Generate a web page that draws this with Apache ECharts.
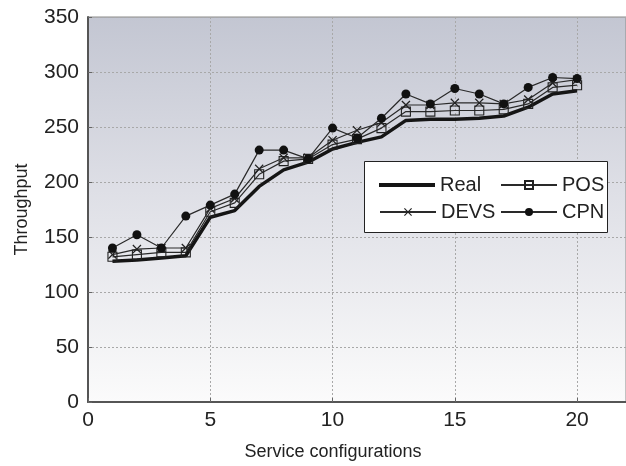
<!DOCTYPE html>
<html>
<head>
<meta charset="utf-8">
<script src="https://cdn.jsdelivr.net/npm/echarts@6/dist/echarts.min.js"></script>
<style>
  html, body { margin: 0; padding: 0; background: #ffffff; }
  #chart { width: 626px; height: 466px; }
</style>
</head>
<body>
<div id="chart"></div>
<script>
// Throughput measured for each service configuration (1..20)
const configs = [1, 2, 3, 4, 5, 6, 7, 8, 9, 10, 11, 12, 13, 14, 15, 16, 17, 18, 19, 20];
const realValues = [128, 129, 131, 133, 168, 174, 196, 211, 218, 230, 236, 241, 256, 257, 257, 258, 260, 268, 280, 283];
const posValues  = [132, 134, 136, 136, 173, 181, 207, 219, 221, 234, 239, 249, 264, 264, 265, 265, 266, 271, 286, 288];
const devsValues = [134, 139, 140, 140, 176, 185, 212, 222, 222, 238, 247, 254, 270, 270, 272, 272, 271, 275, 290, 293];
const cpnValues  = [140, 152, 140, 169, 179, 189, 229, 229, 221, 249, 240, 258, 280, 271, 285, 280, 271, 286, 295, 294];

const yTicks = [0, 50, 100, 150, 200, 250, 300, 350];
const xTicks = [0, 5, 10, 15, 20];

const pairs = vals => configs.map((c, i) => [c, vals[i]]);

const FONT = 'Liberation Sans';
const INK = '#222222';
const crossPath = 'path://M1,0 L5,4 L9,0 L10,1 L6,5 L10,9 L9,10 L5,6 L1,10 L0,9 L4,5 L0,1 Z';

const thinLine = { color: '#2a2a2a', width: 1.2 };
const legendText = { fontFamily: FONT, fontSize: 20, color: INK };

// one legend block per entry so the two columns line up inside the box
function legendEntry(name, left, top, extra) {
  return Object.assign({
    data: [name],
    left: left, top: top,
    z: 60,
    itemWidth: 56, itemHeight: 10,
    textStyle: legendText,
    selectedMode: false
  }, extra || {});
}

const chart = echarts.init(document.getElementById('chart'), null, { renderer: 'canvas' });

chart.setOption({
  animation: false,
  backgroundColor: '#ffffff',
  grid: {
    left: 88, top: 17, right: -5, bottom: 62,
    show: true,
    borderColor: '#8a8a8a',
    borderWidth: 1,
    backgroundColor: {
      type: 'linear', x: 0, y: 0, x2: 0, y2: 1,
      colorStops: [
        { offset: 0, color: '#c3c6d2' },
        { offset: 0.45, color: '#dedfe6' },
        { offset: 1, color: '#fbfbfb' }
      ]
    }
  },
  xAxis: {
    type: 'value',
    min: 0, max: 22, interval: 5,
    name: 'Service configurations',
    nameLocation: 'middle',
    nameGap: 41,
    nameTextStyle: { fontFamily: FONT, fontSize: 18, color: INK, padding: [0, 48, 0, 0] },
    axisLine: { show: true, lineStyle: { color: '#555555', width: 2 } },
    axisTick: { show: true, inside: true, length: 4, lineStyle: { color: '#666' } },
    axisLabel: {
      fontFamily: FONT, fontSize: 21, color: INK, margin: 8,
      showMaxLabel: false,
      formatter: v => (xTicks.includes(v) ? String(v) : '')
    },
    splitLine: { show: true, lineStyle: { color: '#a8a8a8', type: [2, 2], width: 1 } }
  },
  yAxis: {
    type: 'value',
    min: 0, max: 350, interval: 50,
    name: 'Throughput',
    nameLocation: 'middle',
    nameGap: 57,
    nameRotate: 90,
    nameTextStyle: { fontFamily: FONT, fontSize: 18, color: INK },
    axisLine: { show: true, lineStyle: { color: '#555555', width: 2 } },
    axisTick: { show: true, inside: true, length: 4, lineStyle: { color: '#666' } },
    axisLabel: {
      fontFamily: FONT, fontSize: 21, color: INK, margin: 9,
      formatter: v => (yTicks.includes(v) ? String(v) : '')
    },
    splitLine: { show: true, lineStyle: { color: '#a8a8a8', type: [2, 2], width: 1 } }
  },
  graphic: [{
    type: 'rect',
    z: 50,
    shape: { x: 364.5, y: 161.5, width: 243, height: 71 },
    style: { fill: '#ffffff', stroke: '#222222', lineWidth: 1 }
  }],
  legend: [
    legendEntry('Real', 374, 170, { icon: 'rect', itemHeight: 4, itemStyle: { color: '#151515' } }),
    legendEntry('POS', 495, 170),
    legendEntry('DEVS', 374, 197),
    legendEntry('CPN', 495, 197)
  ],
  series: [
    {
      name: 'Real', type: 'line', data: pairs(realValues),
      symbol: 'none',
      lineStyle: { color: '#151515', width: 3.5 },
      itemStyle: { color: '#151515' },
      z: 3
    },
    {
      name: 'POS', type: 'line', data: pairs(posValues),
      symbol: 'rect', symbolSize: 9,
      lineStyle: thinLine,
      itemStyle: { color: 'rgba(255,255,255,0)', borderColor: '#222', borderWidth: 1.1 },
      z: 4
    },
    {
      name: 'DEVS', type: 'line', data: pairs(devsValues),
      symbol: crossPath, symbolSize: 9,
      lineStyle: thinLine,
      itemStyle: { color: '#222', borderWidth: 0 },
      z: 5
    },
    {
      name: 'CPN', type: 'line', data: pairs(cpnValues),
      symbol: 'circle', symbolSize: 9,
      lineStyle: thinLine,
      itemStyle: { color: '#111', borderWidth: 0 },
      z: 6
    }
  ]
});
</script>
</body>
</html>
